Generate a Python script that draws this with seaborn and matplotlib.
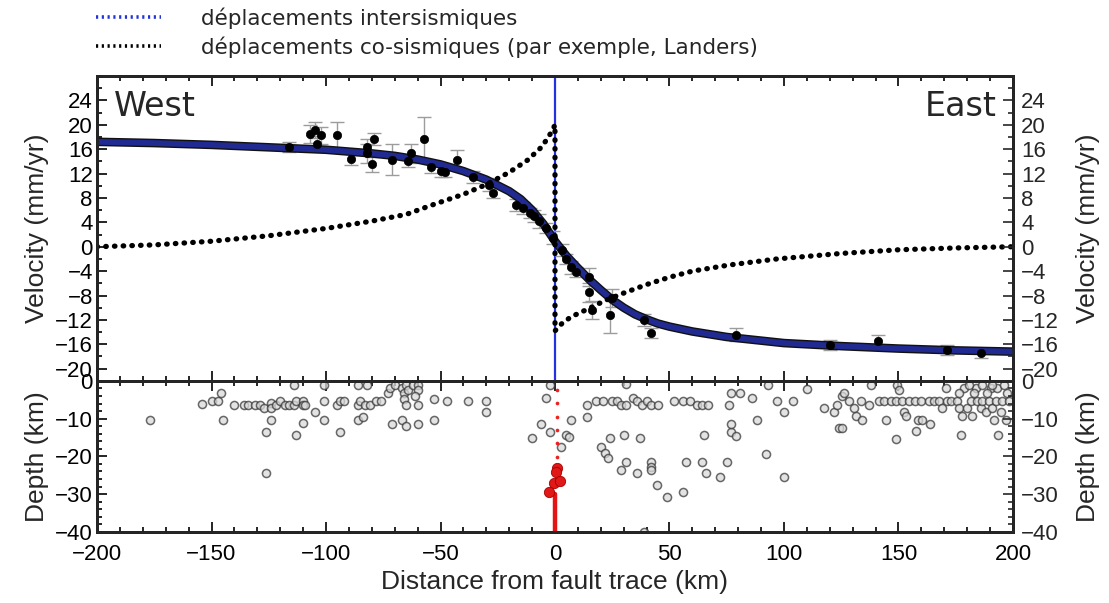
import matplotlib
matplotlib.use("Agg")
import matplotlib.pyplot as plt
import matplotlib.patheffects as pe
from matplotlib.lines import Line2D
from matplotlib.ticker import MultipleLocator
import seaborn as sns

# ---------------- interseismic model (velocity vs distance) ----------------
model_x = [-200, -175, -150, -125, -100, -80, -70, -60, -50, -40, -30, -20, -15, -10, -5,
           0, 5, 10, 15, 20, 25, 30, 35, 40, 45, 50, 55, 60, 75, 100, 125, 150, 175, 200]
model_v = [17.2, 17.0, 16.7, 16.3, 15.9, 15.3, 14.9, 14.3, 13.5, 12.4, 11.0, 9.1, 7.8, 6.0, 3.7,
           0.9, -1.5, -3.5, -5.4, -7.1, -8.7, -10.0, -11.1, -11.9, -12.6, -13.1, -13.5, -13.9,
           -14.8, -15.8, -16.3, -16.7, -17.0, -17.2]

# ---------------- coseismic displacement (Landers-like) ----------------
cosei_x = [-200, -175, -150, -125, -100, -80, -65, -54, -40, -30, -20, -12, -6, -3, -1, 0,
           0, 3, 7, 15, 22, 30, 40, 50, 60, 76, 97, 125, 150, 175, 200]
cosei_v = [0.0, 0.3, 0.9, 1.8, 3.0, 4.2, 5.3, 6.8, 8.6, 10.2, 12.2, 14.2, 16.3, 17.9, 19.2, 20.0,
           -13.8, -12.6, -11.5, -10.1, -8.8, -7.6, -6.2, -5.0, -4.0, -3.0, -2.0, -1.1, -0.5,
           -0.2, 0.0]

# ---------------- GPS velocities ----------------
gps_x = [-116, -107, -105, -104, -102, -95, -89, -82, -82, -79, -80, -71, -63, -64, -57,
         -54, -50, -48, -43, -36, -29, -27, -17, -14, -11, -9, -7, -4, -1,
         3, 5, 7, 9, 15, 15, 16, 24, 25, 39, 42, 79, 120, 141, 171, 186]
gps_v = [16.4, 18.5, 19.2, 16.9, 18.3, 18.3, 14.4, 16.4, 15.3, 17.7, 13.5, 14.3, 15.3, 14.0, 17.7,
         13.1, 12.5, 12.3, 14.3, 11.5, 10.2, 8.8, 6.8, 6.3, 5.5, 5.0, 4.2, 3.1, 1.5,
         -0.6, -2.0, -3.4, -4.2, -5.0, -7.5, -10.4, -11.2, -8.4, -12.0, -14.1, -14.4, -16.1,
         -15.5, -16.9, -17.4]
gps_err = [0.8, 1.5, 1.3, 1.2, 1.4, 2.1, 1.0, 1.3, 1.5, 1.0, 1.2, 2.5, 1.5, 1.0, 3.5,
           1.0, 1.0, 0.8, 1.5, 1.0, 1.0, 0.8, 1.0, 1.0, 0.8, 1.0, 1.2, 0.8, 1.0,
           1.0, 0.8, 1.0, 0.8, 1.5, 1.5, 1.5, 3.0, 1.5, 1.0, 0.8, 1.0, 0.8, 1.0, 0.8, 0.8]

# ---------------- seismicity (distance, depth) ----------------
eq_x = [-177, -154, -150, -147, -146, -145, -140, -136, -134, -131, -129, -127, -126, -126,
        -124, -124, -124, -122, -120, -118, -116, -114, -113, -114, -113, -110, -110, -109,
        -110, -105, -101, -101, -101, -95, -94, -92, -94, -86, -85, -83, -81, -86, -84, -86,
        -82, -78, -76, -73, -72, -70, -67, -66, -65, -64, -62, -60, -60, -61, -66, -65, -60,
        -71, -67, -65, -60, -53, -53, -47, -38, -30, -30, -10, -6, -4, -2, -2,
        2.6, 5, 6, 7, 14, 14, 18, 21, 25, 27, 29, 31, 34, 36, 38, 40, 42, 45, 31, 20, 22, 23,
        24, 29, 30, 31, 36, 37, 42, 42, 42, 44.5, 49, 39, 52, 56, 59, 62, 64, 67, 56, 57, 64,
        65, 66, 72, 75, 76, 77, 81, 77, 77, 79, 86, 88, 92, 93, 97, 100, 100, 104, 110,
        117.5, 121.8, 123.3, 124.0, 125.5, 125.2, 126.2, 128.4, 130.6, 131.3, 133.5, 134.2,
        137.1, 137.8, 141.5, 143.7, 144.7, 146.6, 148.8, 149.0, 149.5, 150.2, 151.7, 152.4,
        153.1, 154.6, 157.2, 157.8, 158.7, 159.7, 160.4, 163.6, 163.3, 165.5, 167.7, 169.1,
        170.6, 171.3, 172.8, 175.7, 176.4, 177.2, 177.9, 178.6, 180.0, 181.5, 182.2, 183.7,
        184.4, 185.9, 186.6, 188.1, 189.5, 190.3, 191.0, 191.7, 192.4, 193.2, 193.6, 194.6,
        195.3, 196.8, 197.5, 198.3, 180.7, 186.6, 191.0, 196.0, 188.8, 182.9, 176.4]
eq_depth = [-10.3, -6.1, -5.3, -5.3, -3.2, -10.3, -6.3, -6.3, -6.3, -6.3, -6.3, -7.1, -24.3, -13.5,
            -5.8, -7.1, -10.3, -6.3, -5.3, -6.3, -6.3, -6.3, -14.3, -1.1, -5.3, -5.3, -6.3, -6.3,
            -11.1, -8.2, -1.1, -5.3, -10.3, -6.3, -5.3, -5.3, -13.5, -6.3, -5.3, -6.3, -6.3, -10.3,
            -9.5, -1.1, -1.1, -5.3, -5.3, -3.2, -2.0, -1.0, -2.0, -3.2, -1.1, -2.5, -1.1, -1.0,
            -2.5, -4.1, -4.8, -6.3, -6.3, -11.4, -10.3, -12.0, -11.3, -4.7, -10.3, -5.3, -5.3,
            -5.3, -8.2, -15.1, -11.4, -4.5, -13.5, -1.1,
            -17.5, -14.3, -15.0, -10.3, -6.3, -9.5, -5.3, -5.3, -5.3, -5.3, -6.3, -6.3, -4.5,
            -5.3, -6.3, -5.3, -6.3, -6.3, -0.8, -17.5, -19.0, -20.4, -15.1, -23.5, -14.3, -21.4,
            -24.3, -15.1, -21.4, -22.8, -23.5, -27.5, -30.7, -40.0, -5.3, -5.3, -5.3, -6.3, -6.3,
            -6.3, -29.4, -21.4, -21.4, -14.3, -24.3, -25.4, -21.4, -6.3, -3.2, -3.2, -13.5,
            -11.4, -14.6, -4.5, -10.3, -19.3, -1.1, -5.3, -8.2, -25.4, -5.3, -2.1,
            -7.2, -8.3, -6.3, -12.4, -12.4, -4.1, -3.3, -5.3, -7.2, -9.4, -5.3, -10.3,
            -6.3, -1.1, -5.3, -5.3, -10.3, -5.3, -5.3, -15.3, -1.1, -2.4, -5.3, -8.3,
            -9.4, -5.3, -5.3, -13.4, -10.3, -5.3, -10.3, -11.5, -5.3, -5.3, -5.3, -7.2,
            -1.9, -5.3, -5.3, -5.3, -7.2, -14.3, -9.4, -1.9, -7.2, -5.3, -9.4, -1.9,
            -5.3, -7.2, -5.3, -8.3, -5.3, -1.9, -7.2, -10.3, -5.3, -1.9, -14.3, -8.3,
            -5.3, -10.3, -3.3, -5.3, -1.1, -1.1, -1.1, -1.1, -3.3, -3.3, -3.3]

# ---------------- Landers rupture on the fault plane ----------------
rupture_dot_x = [1, 1, 1, 1, 1, 1]
rupture_dot_depth = [-2.4, -5.8, -9.5, -13.0, -16.4, -20.1]
hypo_x = [1.0, 0.5, -0.5, 2.0, -2.6]
hypo_depth = [-23.0, -24.1, -27.0, -26.5, -29.4]
root_x = [0, 0]
root_depth = [-30, -40]

vel_ticks = [24, 20, 16, 12, 8, 4, 0, -4, -8, -12, -16, -20]
depth_ticks = [0, -10, -20, -30, -40]
dist_ticks = [-200, -150, -100, -50, 0, 50, 100, 150, 200]

legend_labels = ["déplacements intersismiques",
                 "déplacements co-sismiques (par exemple, Landers)"]

# ---------------- style ----------------
sns.set_theme(style="ticks")
plt.rcParams['font.family'] = ['Liberation Sans', 'DejaVu Sans']
plt.rcParams['axes.linewidth'] = 2.0

fig = plt.figure(figsize=(11.09, 6.03), dpi=100)
gs = fig.add_gridspec(2, 1, height_ratios=[305, 151], hspace=0,
                      left=0.0875, right=0.9134, top=0.874, bottom=0.118)
ax1 = fig.add_subplot(gs[0])
ax2 = fig.add_subplot(gs[1], sharex=ax1)

tick_fs = 16
label_fs = 19

# ---- top panel: velocities ----
ax1.axvline(0, color='#2431e0', lw=1.6, zorder=1)
ax1.errorbar(gps_x, gps_v, yerr=gps_err, fmt='none', ecolor='#9c9c9c',
             elinewidth=1.0, capsize=5, capthick=1.0, zorder=2)
sns.lineplot(x=model_x, y=model_v, ax=ax1, color='#202a90', lw=4.2,
             estimator=None, sort=False, zorder=3,
             path_effects=[pe.Stroke(linewidth=6.2, foreground='#111111'), pe.Normal()])
sns.scatterplot(x=gps_x, y=gps_v, ax=ax1, color='black', s=36,
                edgecolor='black', linewidth=0.5, zorder=4)
sns.lineplot(x=cosei_x, y=cosei_v, ax=ax1, color='black', lw=3.8,
             estimator=None, sort=False, zorder=5,
             linestyle=(0, (0.1, 1.55)), dash_capstyle='round')

ax1.set_xlim(-200, 200)
ax1.set_ylim(-22, 28)
ax1.set_yticks(vel_ticks)
ax1.yaxis.set_minor_locator(MultipleLocator(2))
ax1.set_ylabel('Velocity (mm/yr)', fontsize=label_fs, labelpad=4)
ax1.text(0.018, 0.955, 'West', transform=ax1.transAxes, fontsize=24,
         ha='left', va='top', family='DejaVu Sans')
ax1.text(0.982, 0.955, 'East', transform=ax1.transAxes, fontsize=24,
         ha='right', va='top', family='DejaVu Sans')

# ---- bottom panel: seismicity ----
sns.scatterplot(x=eq_x, y=eq_depth, ax=ax2, s=34, color='#dadada',
                edgecolor='#383838', linewidth=1.1, alpha=0.75, zorder=2)
sns.scatterplot(x=rupture_dot_x, y=rupture_dot_depth, ax=ax2, s=7,
                color='#ee2020', linewidth=0, zorder=3)
sns.lineplot(x=root_x, y=root_depth, ax=ax2, color='#e41414', lw=3.2,
             estimator=None, sort=False, zorder=3)
sns.scatterplot(x=hypo_x, y=hypo_depth, ax=ax2, s=55, color='#e01818',
                edgecolor='#a80000', linewidth=0.6, zorder=4)

ax2.set_ylim(-40, 0)
ax2.set_yticks(depth_ticks)
ax2.yaxis.set_minor_locator(MultipleLocator(2))
ax2.set_xticks(dist_ticks)
ax2.xaxis.set_minor_locator(MultipleLocator(10))
ax2.set_ylabel('Depth (km)', fontsize=label_fs, labelpad=4)
ax2.set_xlabel('Distance from fault trace (km)', fontsize=label_fs, labelpad=3)

for ax in (ax1, ax2):
    ax.tick_params(which='both', direction='in', top=True, right=True,
                   labelsize=tick_fs, width=1.2, colors='black', pad=3)
    ax.tick_params(which='major', length=7)
    ax.tick_params(which='minor', length=3.5)
    for s in ax.spines.values():
        s.set_linewidth(2.0)
        s.set_color('black')
ax1.tick_params(labelbottom=False)
ax2.tick_params(axis='x', pad=9)

# right-hand copies of the vertical axes
for ax, ticks, lab in ((ax1, vel_ticks, 'Velocity (mm/yr)'),
                       (ax2, depth_ticks, 'Depth (km)')):
    tw = ax.twinx()
    tw.set_ylim(ax.get_ylim())
    tw.set_yticks(ticks)
    tw.yaxis.set_minor_locator(MultipleLocator(2))
    tw.tick_params(which='both', direction='in', labelsize=tick_fs, width=1.2, pad=6)
    tw.tick_params(which='major', length=7)
    tw.tick_params(which='minor', length=3.5)
    tw.set_ylabel(lab, fontsize=label_fs, labelpad=12)
    for s in tw.spines.values():
        s.set_linewidth(2.0)

# ---- legend ----
handles = [Line2D([], [], color='#2233dd', lw=2.6, linestyle=(0, (0.6, 1.0))),
           Line2D([], [], color='black', lw=2.6, linestyle=(0, (0.6, 1.0)))]
fig.legend(handles, legend_labels, loc='upper left', bbox_to_anchor=(0.083, 0.995),
           frameon=False, prop={'family': 'DejaVu Sans', 'size': 15.5},
           handlelength=3.0, handletextpad=1.85, labelspacing=0.34,
           borderaxespad=0, borderpad=0.2)

fig.savefig('out.png', dpi=100)
